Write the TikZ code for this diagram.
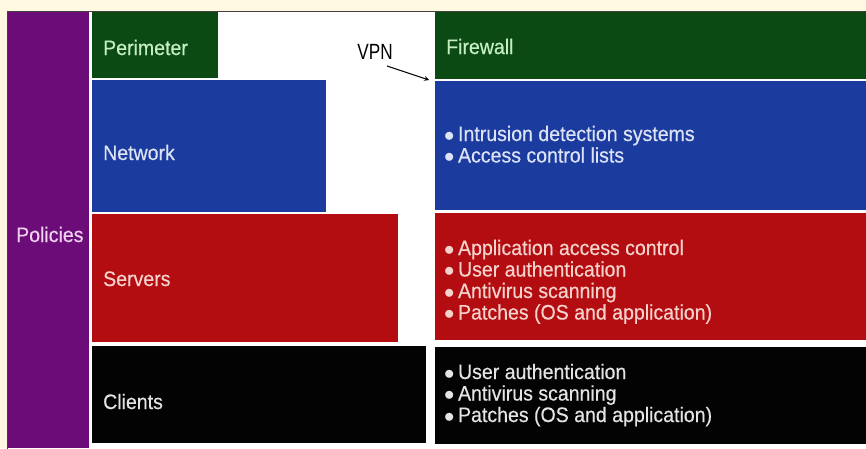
\documentclass[tikz,border=0pt]{standalone}
\usepackage{fontspec}
\setmainfont[FakeStretch=0.93,FakeBold=0.4]{Liberation Sans}
\newfontfamily\vpnfont[FakeStretch=0.78]{Liberation Sans}
\definecolor{bgcream}{HTML}{FEF9E0}
\definecolor{cpurple}{HTML}{6B0C78}
\definecolor{cgreen}{HTML}{0C4A14}
\definecolor{cblue}{HTML}{1B3C9E}
\definecolor{cred}{HTML}{B30D12}
\definecolor{cblack}{HTML}{030303}
\definecolor{tgreen}{HTML}{C6EEC4}
\definecolor{tblue}{HTML}{DCE3F6}
\definecolor{tred}{HTML}{F6D2CC}
\definecolor{tgrey}{HTML}{E4E4E4}
\definecolor{tpurple}{HTML}{F0D2F0}
\tikzset{
  lbl/.style={anchor=base west, inner sep=0pt, font=\fontsize{21}{22}\selectfont},
  lst/.style={anchor=base west, inner sep=0pt, align=left, font=\fontsize{21}{21.5}\selectfont},
}
\begin{document}
\begin{tikzpicture}[x=1pt,y=-1pt]
\useasboundingbox (0,0) rectangle (866,448);
\fill[bgcream] (0,0) rectangle (866,448);
\filldraw[fill=white, draw=black!75, line width=0.8pt] (7.5,11.5) rectangle (867,449);
% left column
\fill[cpurple] (8,12) rectangle (89,448);
\fill[cgreen] (92,12) rectangle (218,78);
\fill[cblue] (92,80) rectangle (326,212);
\fill[cred] (92,214) rectangle (398,342);
\fill[cblack] (92,346) rectangle (426,443);
% right column
\fill[cgreen] (435,12) rectangle (866,79);
\fill[cblue] (435,81) rectangle (866,210);
\fill[cred] (435,213) rectangle (866,340);
\fill[cblack] (435,347) rectangle (866,444);
% labels
\node[lbl, text=tpurple] (policies) at (16,242) {Policies};
\node[lbl, text=tgreen] (perim) at (103,55) {Perimeter};
\node[lbl, text=tblue] (network) at (103,160) {Network};
\node[lbl, text=tred] (servers) at (103,286) {Servers};
\node[lbl, text=tgrey] (clients) at (103,409) {Clients};
\node[lbl, text=tgreen] (firewall) at (446,54) {Firewall};
% lists (anchored at the baseline of their last line)
\node[lst, text=tblue] (netlist) at (444,162.5) {$\bullet$\,Intrusion detection systems\\$\bullet$\,Access control lists};
\node[lst, text=tred] (srvlist) at (444,319.5) {$\bullet$\,Application access control\\$\bullet$\,User authentication\\$\bullet$\,Antivirus scanning\\$\bullet$\,Patches (OS and application)};
\node[lst, text=tgrey] (clilist) at (444,422) {$\bullet$\,User authentication\\$\bullet$\,Antivirus scanning\\$\bullet$\,Patches (OS and application)};
% VPN
\node[anchor=base, inner sep=0pt, font=\vpnfont\fontsize{22}{24}\selectfont] (vpn) at (375,59) {VPN};
\coordinate (vpnend) at (429,80);
\draw[-stealth, line width=1.1pt] (387,66) -- (vpnend);
\end{tikzpicture}
\end{document}
